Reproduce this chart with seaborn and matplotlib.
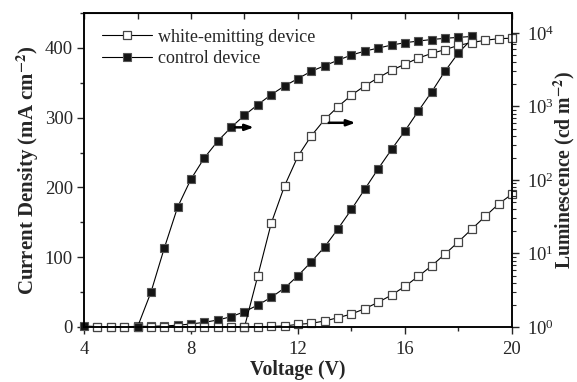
import matplotlib
matplotlib.use('Agg')
import matplotlib.pyplot as plt
import seaborn as sns
from matplotlib.ticker import MultipleLocator, LogLocator, NullFormatter
from matplotlib.lines import Line2D

# ---- data ----
ctrl_v_j = [4.0, 4.5, 5.0, 5.5, 6.0, 6.5, 7.0, 7.5, 8.0, 8.5, 9.0, 9.5, 10.0, 10.5,
            11.0, 11.5, 12.0, 12.5, 13.0, 13.5, 14.0, 14.5, 15.0, 15.5, 16.0, 16.5,
            17.0, 17.5, 18.0, 18.5]
ctrl_j = [1.5, 0.5, 0.5, 0.5, 0.8, 1.0, 1.5, 2.5, 4.3, 6.7, 10.0, 14.8, 21.9, 31.5,
          42.5, 55.9, 73.5, 93.5, 115.0, 141.0, 168.6, 197.7, 226.8, 254.6, 281.2, 309.5,
          337.1, 366.8, 393.0, 412.6]

white_v_j = [4.5, 5.0, 5.5, 6.0, 6.5, 7.0, 7.5, 8.0, 8.5, 9.0, 9.5, 10.0, 10.5, 11.0,
             11.5, 12.0, 12.5, 13.0, 13.5, 14.0, 14.5, 15.0, 15.5, 16.0, 16.5, 17.0,
             17.5, 18.0, 18.5, 19.0, 19.5, 20.0]
white_j = [0.0, 0.0, 0.0, 0.0, 0.0, 0.0, 0.0, 0.0, 0.0, 0.0, 0.2, 0.3, 0.5, 0.8,
           1.5, 3.8, 5.3, 8.6, 13.4, 18.6, 26.3, 35.4, 45.8, 58.3, 72.6, 87.8,
           104.6, 122.2, 140.4, 158.6, 176.2, 190.5]

ctrl_v_l = [6.0, 6.5, 7.0, 7.5, 8.0, 8.5, 9.0, 9.5, 10.0, 10.5, 11.0, 11.5, 12.0,
            12.5, 13.0, 13.5, 14.0, 14.5, 15.0, 15.5, 16.0, 16.5, 17.0, 17.5, 18.0, 18.5]
ctrl_l = [1.0, 2.95, 11.8, 42.7, 103, 200, 338, 520, 760, 1060, 1450, 1900, 2400,
          3015, 3590, 4270, 5010, 5670, 6230, 6850, 7370, 7770, 8150, 8460, 8720, 8960]

white_v_l = [10.0, 10.5, 11.0, 11.5, 12.0, 12.5, 13.0, 13.5, 14.0, 14.5, 15.0, 15.5,
             16.0, 16.5, 17.0, 17.5, 18.0, 18.5, 19.0, 19.5, 20.0]
white_l = [1.0, 5.0, 25.8, 83.6, 211, 400, 667, 995, 1430, 1910, 2460, 3110,
           3760, 4560, 5270, 5940, 6780, 7400, 7960, 8350, 8500]

labels = ["white-emitting device", "control device"]

# ---- style ----
sns.set_style('ticks')
plt.rcParams['font.family'] = ['Liberation Serif', 'DejaVu Serif']
plt.rcParams['mathtext.fontset'] = 'stix'

fig = plt.figure(figsize=(5.77, 3.82), dpi=100)
ax = fig.add_axes([0.1456, 0.144, 0.7417, 0.822])
ax2 = ax.twinx()

open_kw = dict(color='k', lw=0.8, marker='s', markersize=5.5, markerfacecolor='white',
               markeredgecolor='#444444', markeredgewidth=0.9, clip_on=False)
fill_kw = dict(color='k', lw=0.8, marker='s', markersize=5.5, markerfacecolor='#151515',
               markeredgecolor='#555555', markeredgewidth=0.8, clip_on=False)

sns.lineplot(x=ctrl_v_j, y=ctrl_j, ax=ax, **fill_kw)
sns.lineplot(x=white_v_j, y=white_j, ax=ax, **open_kw)
sns.lineplot(x=ctrl_v_l, y=ctrl_l, ax=ax2, **fill_kw)
sns.lineplot(x=white_v_l, y=white_l, ax=ax2, **open_kw)

# axes ranges and ticks
ax.set_xlim(4, 20)
ax.set_ylim(0, 450)
ax2.set_yscale('log')
ax2.set_ylim(1, 18700)

ax.xaxis.set_major_locator(MultipleLocator(4))
ax.xaxis.set_minor_locator(MultipleLocator(2))
ax.yaxis.set_major_locator(MultipleLocator(100))
ax.yaxis.set_minor_locator(MultipleLocator(50))
ax2.yaxis.set_major_locator(LogLocator(base=10, numticks=10))
ax2.yaxis.set_minor_locator(LogLocator(base=10, subs=range(2, 10), numticks=20))
ax2.yaxis.set_minor_formatter(NullFormatter())

ax.tick_params(axis='x', which='major', direction='out', length=5, width=1,
               labelsize=13.5, pad=5, top=False)
ax.tick_params(axis='x', which='minor', direction='out', length=3, width=1, top=False)
ax.tick_params(axis='y', which='major', direction='out', length=5, width=1,
               labelsize=13.5, pad=3)
ax.tick_params(axis='y', which='minor', direction='out', length=3, width=1)
ax2.tick_params(axis='y', which='major', direction='out', length=5, width=1,
                labelsize=13.5, pad=6)
ax2.tick_params(axis='y', which='minor', direction='out', length=3, width=0.8)

sec = ax.secondary_xaxis('top')
sec.xaxis.set_major_locator(MultipleLocator(2))
sec.xaxis.set_major_formatter(NullFormatter())
sec.tick_params(direction='in', length=4, width=1)

for a in (ax, ax2):
    for s in a.spines.values():
        s.set_linewidth(1.1)
        s.set_color('k')

ax.set_xlabel('Voltage (V)', fontsize=14.2, fontweight='bold')
ax.set_ylabel(r'Current Density (mA cm$^{\mathbf{-2}}$)', fontsize=15, fontweight='bold')
ax2.set_ylabel(r'Luminescence (cd m$^{\mathbf{-2}}$)', fontsize=14.2, fontweight='bold')
ax.xaxis.set_label_coords(0.5, -0.105)
ax.yaxis.set_label_coords(-0.10, 0.5)
ax2.yaxis.set_label_coords(1.093, 0.5)

# arrows pointing to the right axis
arrow = dict(arrowstyle='-|>,head_length=0.5,head_width=0.18', color='k', lw=1.8,
             shrinkA=0, shrinkB=0)
ax2.annotate('', xy=(10.35, 520), xytext=(9.65, 520), arrowprops=arrow)
ax2.annotate('', xy=(14.15, 600), xytext=(13.15, 600), arrowprops=arrow)

# legend
h_open = Line2D([], [], color='k', lw=0.8, marker='s', markersize=5.5,
                markerfacecolor='white', markeredgecolor='#444444', markeredgewidth=0.9)
h_fill = Line2D([], [], color='k', lw=0.8, marker='s', markersize=5.5,
                markerfacecolor='#151515', markeredgecolor='#555555', markeredgewidth=0.8)
ax2.legend(handles=[h_open, h_fill], labels=labels, loc='upper left',
           bbox_to_anchor=(0.041, 0.95), frameon=False, fontsize=13,
           handlelength=2.8, handletextpad=0.35, labelspacing=0.25,
           borderpad=0, borderaxespad=0)

fig.savefig('out.png', dpi=100)
